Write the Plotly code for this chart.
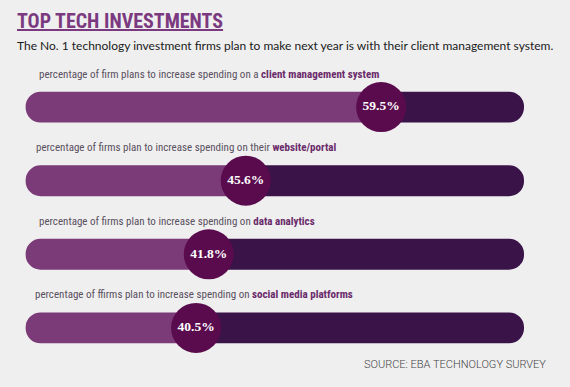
import plotly.graph_objects as go

# ---- data ----
categories = ["client management system", "website/portal", "data analytics", "social media platforms"]
label_prefix = [
    "percentage of firm plans to increase spending on a ",
    "percentage of firms plan to increase spending on their ",
    "percentage of firms plan to increase spending on ",
    "percentage of ffirms plan to increase spending on ",
]
values = [59.5, 45.6, 41.8, 40.5]

# ---- style / layout constants ----
W, H = 570, 387
X_RANGE = [20.37, 78.89]
Y_RANGE = [3.803, -1.455]
TRACK_START, TRACK_END = 23.0, 74.17
BAR_W = 0.42
LIGHT = "#7b3a78"
DARK = "#3a1349"
CIRCLE = "#5a0b4e"
BG = "#efefef"
LABEL_X = [37, 34, 37, 33]

ys = list(range(len(values)))

fig = go.Figure()
# light segment: from value back to track start (rounded left end)
fig.add_trace(go.Bar(
    y=ys, x=[TRACK_START - v for v in values], base=values, orientation="h",
    width=BAR_W, marker=dict(color=LIGHT, cornerradius=16, line=dict(width=0)),
    hoverinfo="skip", showlegend=False))
# dark remainder: from value to track end (rounded right end)
fig.add_trace(go.Bar(
    y=ys, x=[TRACK_END - v for v in values], base=values, orientation="h",
    width=BAR_W, marker=dict(color=DARK, cornerradius=16, line=dict(width=0)),
    hoverinfo="skip", showlegend=False))
# circles with value
fig.add_trace(go.Scatter(
    y=ys, x=values, mode="markers+text",
    marker=dict(size=50, color=CIRCLE, line=dict(width=0)),
    text=[f"{v:.1f}%" for v in values], textposition="middle center",
    textfont=dict(family="Liberation Serif", size=13.5, color="white", weight="bold"),
    hoverinfo="skip", showlegend=False))

for i, (pre, cat) in enumerate(zip(label_prefix, categories)):
    fig.add_annotation(
        xref="paper", yref="y", x=LABEL_X[i] / W, y=i, yshift=33,
        xanchor="left", yanchor="middle", showarrow=False,
        text=f"{pre}<b><span style='color:#6a2a6a'>{cat}</span></b>",
        font=dict(family="Roboto Condensed", size=11, color="#5a5060"))

fig.add_annotation(
    xref="paper", yref="paper", x=15 / W, y=1 - 21 / H, xanchor="left", yanchor="middle",
    showarrow=False, text="<b><u>TOP TECH INVESTMENTS</u></b>",
    font=dict(family="Roboto Condensed", size=20, color="#7b3a80"))
fig.add_annotation(
    xref="paper", yref="paper", x=15 / W, y=1 - 46 / H, xanchor="left", yanchor="middle",
    showarrow=False,
    text="The No. 1 technology investment firms plan to make next year is with their client management system.",
    font=dict(family="Lato", size=12, color="#1a1a1a"))
fig.add_annotation(
    xref="paper", yref="paper", x=548 / W, y=1 - 364 / H, xanchor="right", yanchor="middle",
    showarrow=False, text="SOURCE: EBA TECHNOLOGY SURVEY",
    font=dict(family="Roboto", size=11, color="#444444", weight=300))

fig.update_layout(
    width=W, height=H, margin=dict(l=0, r=0, t=0, b=0),
    paper_bgcolor=BG, plot_bgcolor=BG, barmode="overlay",
    xaxis=dict(range=X_RANGE, visible=False, fixedrange=True),
    yaxis=dict(range=Y_RANGE, visible=False, fixedrange=True),
)
fig.write_html(
    "out.html",
    config={"displayModeBar": False},
    post_script="document.body.style.margin='0';document.body.style.background='%s';" % BG,
)
